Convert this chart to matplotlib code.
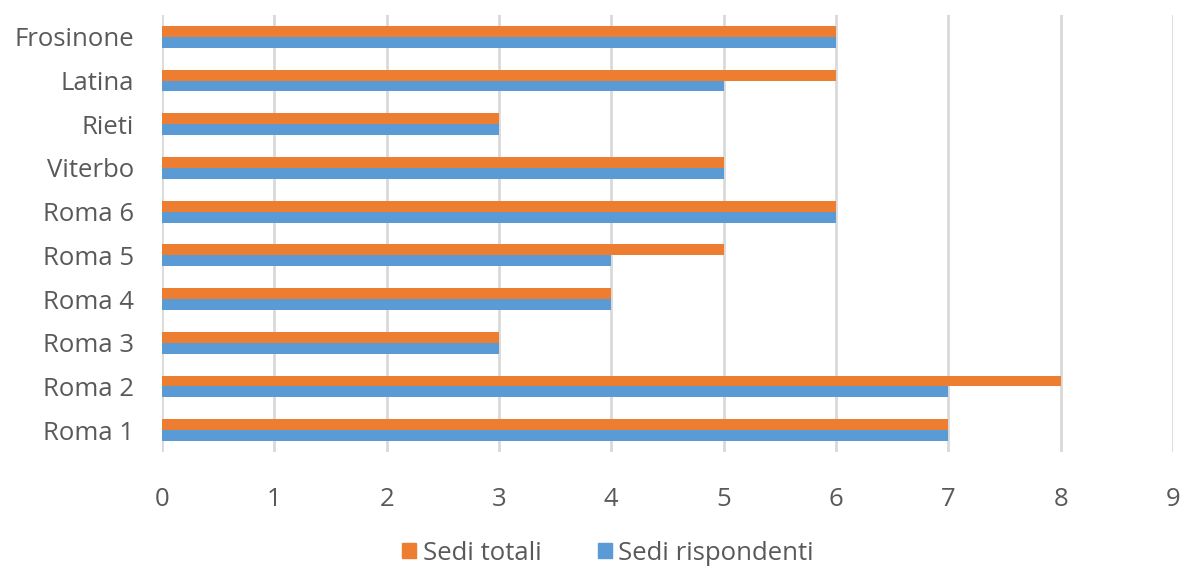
import matplotlib
matplotlib.use("Agg")
import matplotlib.pyplot as plt
import numpy as np
from matplotlib.patches import Patch

categories = ["Roma 1", "Roma 2", "Roma 3", "Roma 4", "Roma 5", "Roma 6",
              "Viterbo", "Rieti", "Latina", "Frosinone"]
sedi_totali = [7, 8, 3, 4, 5, 6, 5, 3, 6, 6]
sedi_rispondenti = [7, 7, 3, 4, 4, 6, 5, 3, 5, 6]
x_ticks = list(range(0, 10))

plt.rcParams['font.family'] = ['Open Sans', 'DejaVu Sans']
text_color = '#595959'
orange = '#ED7D31'
blue = '#5B9BD5'

fig = plt.figure(figsize=(11.84, 5.69), dpi=100)
ax = fig.add_axes([0.1368, 0.2056, 0.8539, 0.768])

y = np.arange(len(categories))
h = 0.25
ax.barh(y + h / 2, sedi_totali, height=h, color=orange, label='Sedi totali', zorder=3)
ax.barh(y - h / 2, sedi_rispondenti, height=h, color=blue, label='Sedi rispondenti', zorder=3)

ax.set_xlim(0, 9)
ax.set_ylim(-0.5, len(categories) - 0.5)
ax.set_xticks(x_ticks)
ax.set_yticks(y)
ax.set_yticklabels(categories)
ax.tick_params(axis='both', length=0, labelsize=18.5, colors=text_color)
ax.tick_params(axis='x', pad=25)
ax.tick_params(axis='y', pad=20)
ax.grid(axis='x', color='#d9d9d9', linewidth=2, zorder=0)
ax.grid(axis='y', visible=False)
for s in ax.spines.values():
    s.set_visible(False)

handles = [Patch(color=orange, label='Sedi totali'), Patch(color=blue, label='Sedi rispondenti')]
fig.legend(handles=handles, loc='center', bbox_to_anchor=(608 / 1184, 1 - 553 / 569), ncol=2,
           frameon=False, fontsize=18.5, labelcolor=text_color, handlelength=0.55,
           handleheight=0.55, handletextpad=0.25, columnspacing=2.2)

fig.savefig("out.png", dpi=100)
